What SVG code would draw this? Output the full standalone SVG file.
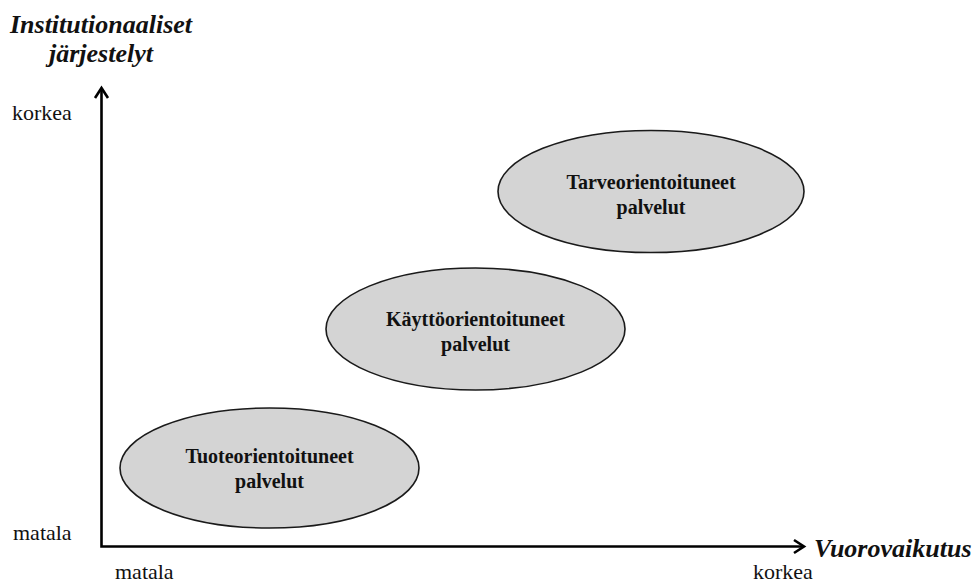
<svg xmlns="http://www.w3.org/2000/svg" width="977" height="583" viewBox="0 0 977 583">
  <style>
    .axis { fill: none; stroke: #000; stroke-width: 2.6; }
    .head { fill: none; stroke: #000; stroke-width: 2.6; stroke-linecap: butt; stroke-linejoin: miter; }
    .oval { fill: #d4d4d4; stroke: #1a1a1a; stroke-width: 1.6; }
    .oval-text { font-family: "Liberation Serif", "Times New Roman", serif; font-weight: bold; font-size: 20px; fill: #111; text-anchor: middle; }
    .tick { font-family: "Liberation Serif", "Times New Roman", serif; font-size: 22px; fill: #111; }
    .title { font-family: "Liberation Serif", "Times New Roman", serif; font-weight: bold; font-style: italic; font-size: 26px; fill: #111; }
  </style>

  <rect width="977" height="583" fill="#fff"/>

  <!-- Axes -->
  <g id="axes">
    <path class="axis" d="M101.5,89 V546.5 H803"/>
    <path class="head" d="M95,98 L101.5,88 L108,98"/>
    <path class="head" d="M794,540 L804,546.5 L794,553"/>
  </g>

  <!-- Axis titles -->
  <g id="axis-titles">
    <text class="title" x="101" y="33" text-anchor="middle">Institutionaaliset</text>
    <text class="title" x="101" y="62" text-anchor="middle">järjestelyt</text>
    <text class="title" x="814" y="557">Vuorovaikutus</text>
  </g>

  <!-- Scale labels -->
  <g id="scale-labels">
    <text class="tick" x="12" y="120">korkea</text>
    <text class="tick" x="13" y="540">matala</text>
    <text class="tick" x="115" y="579">matala</text>
    <text class="tick" x="753" y="579">korkea</text>
  </g>

  <!-- Service categories -->
  <g id="tuoteorientoituneet">
    <ellipse class="oval" cx="269.5" cy="468" rx="149.5" ry="60"/>
    <text class="oval-text" x="269.5" y="463">Tuoteorientoituneet</text>
    <text class="oval-text" x="269.5" y="488">palvelut</text>
  </g>

  <g id="kayttoorientoituneet">
    <ellipse class="oval" cx="475.5" cy="329" rx="149.5" ry="61"/>
    <text class="oval-text" x="475.5" y="326">Käyttöorientoituneet</text>
    <text class="oval-text" x="475.5" y="351">palvelut</text>
  </g>

  <g id="tarveorientoituneet">
    <ellipse class="oval" cx="651" cy="191.5" rx="153" ry="61"/>
    <text class="oval-text" x="651" y="189">Tarveorientoituneet</text>
    <text class="oval-text" x="651" y="214">palvelut</text>
  </g>
</svg>
